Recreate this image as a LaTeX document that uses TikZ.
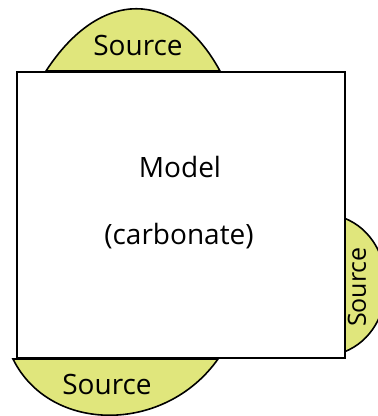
\documentclass[tikz,border=0pt]{standalone}
\usepackage{fontspec}
\setmainfont{Open Sans}
\definecolor{srcfill}{RGB}{224,230,124}
\begin{document}
\begin{tikzpicture}[x=1pt,y=-1pt,
  bump/.style={draw=black,line width=1.6pt,fill=srcfill},
  boxstyle/.style={draw=black,line width=1.8pt,fill=white},
  lab/.style={font=\fontsize{28}{32}\selectfont,inner sep=0pt,anchor=center},
  rlab/.style={font=\fontsize{25}{30}\selectfont,inner sep=0pt,anchor=center,rotate=90}]
\useasboundingbox (0,0) rectangle (378,416);
\begin{scope}
\clip (0,0) rectangle (378,416);
% top source
\path[bump] (46,71) .. controls (100,-12) and (175,-12) .. (220,71) -- cycle;
% bottom source
\path[bump] (13,359) .. controls (50,434) and (165,434) .. (218,359) -- cycle;
% right source
\path[bump] (344,218) .. controls (400,240) and (400,330) .. (344,352) -- cycle;
\end{scope}
\node[boxstyle,minimum width=328pt,minimum height=286pt,inner sep=0pt,anchor=north west] (model) at (16,71) {};
\node[lab] (m1) at (180,167) {Model};
\node[lab] (m2) at (179,236) {(carbonate)};
\node[lab] (s1) at (138,45) {Source};
\node[lab] (s2) at (107,384) {Source};
\node[rlab] (s3) at (357,287) {Source};
\end{tikzpicture}
\end{document}
